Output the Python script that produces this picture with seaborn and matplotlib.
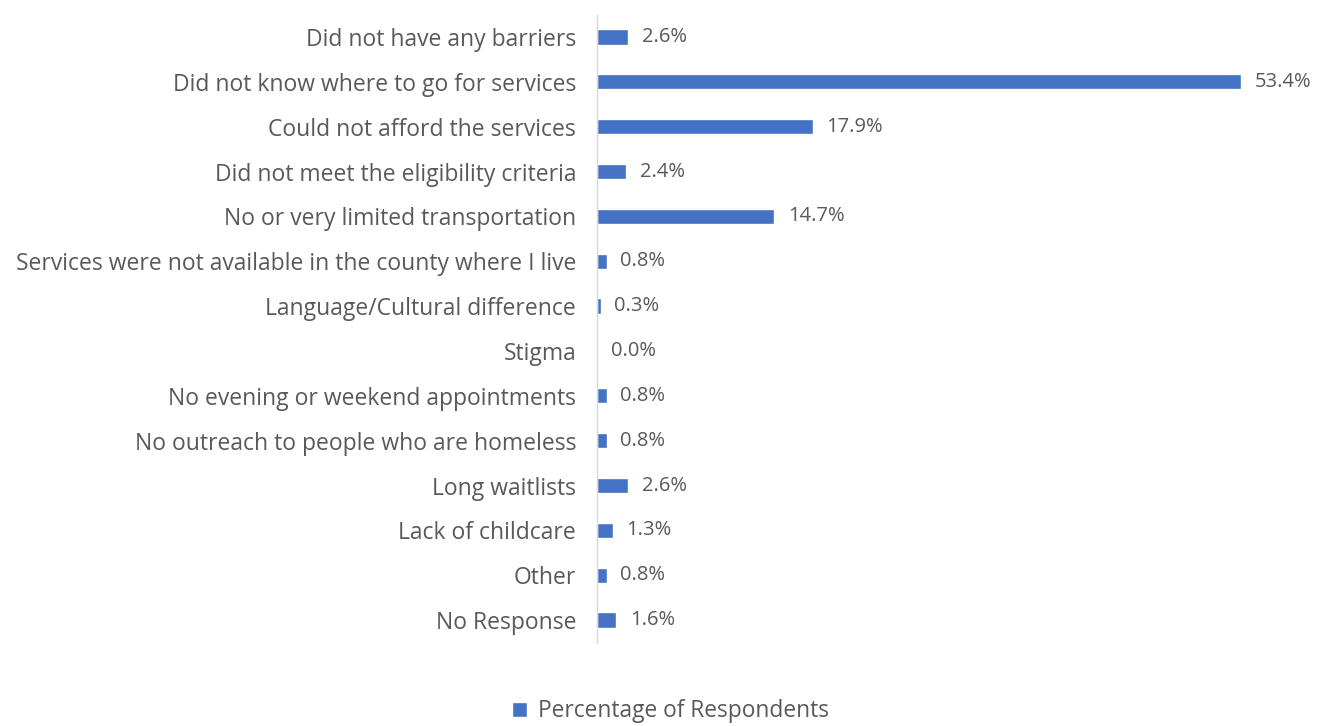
import pandas as pd
import matplotlib
matplotlib.use("Agg")
import matplotlib.pyplot as plt
import seaborn as sns
from matplotlib.patches import Patch

categorias = [
    "Did not have any barriers",
    "Did not know where to go for services",
    "Could not afford the services",
    "Did not meet the eligibility criteria",
    "No or very limited transportation",
    "Services were not available in the county where I live",
    "Language/Cultural difference",
    "Stigma",
    "No evening or weekend appointments",
    "No outreach to people who are homeless",
    "Long waitlists",
    "Lack of childcare",
    "Other",
    "No Response",
]
percentuais = [2.6, 53.4, 17.9, 2.4, 14.7, 0.8, 0.3, 0.0, 0.8, 0.8, 2.6, 1.3, 0.8, 1.6]
serie = "Percentage of Respondents"

df = pd.DataFrame({"categoria": categorias, "pct": percentuais})

cor_barra = "#4472C4"
cor_texto = "#595959"

sns.set_theme(style="white")
plt.rcParams["font.family"] = ["Open Sans", "DejaVu Sans"]

fig = plt.figure(figsize=(13.28, 7.26), dpi=100)
ax = fig.add_axes([0.4495, 0.115, 0.53, 0.865])

sns.barplot(
    data=df,
    x="pct",
    y="categoria",
    orient="h",
    color=cor_barra,
    width=0.34,
    saturation=1,
    ax=ax,
)

ax.bar_label(ax.containers[0], fmt="%.1f%%", padding=10, fontsize=14.5, color=cor_texto)

ax.set_xlim(0, 58.4)
ax.set_ylim(13.5, -0.5)
ax.set_xlabel("")
ax.set_ylabel("")
ax.set_xticks([])
ax.tick_params(axis="y", length=0, pad=15, labelsize=16.5, labelcolor=cor_texto)

for lado in ["top", "right", "bottom"]:
    ax.spines[lado].set_visible(False)
ax.spines["left"].set_color("#d9d9d9")
ax.spines["left"].set_linewidth(1)

fig.legend(
    handles=[Patch(facecolor=cor_barra, label=serie)],
    loc="center",
    bbox_to_anchor=(0.505, 0.02),
    frameon=False,
    fontsize=16.4,
    labelcolor=cor_texto,
    handlelength=0.65,
    handleheight=0.65,
    handletextpad=0.5,
)

fig.savefig("out.png", dpi=100)
plt.close(fig)
